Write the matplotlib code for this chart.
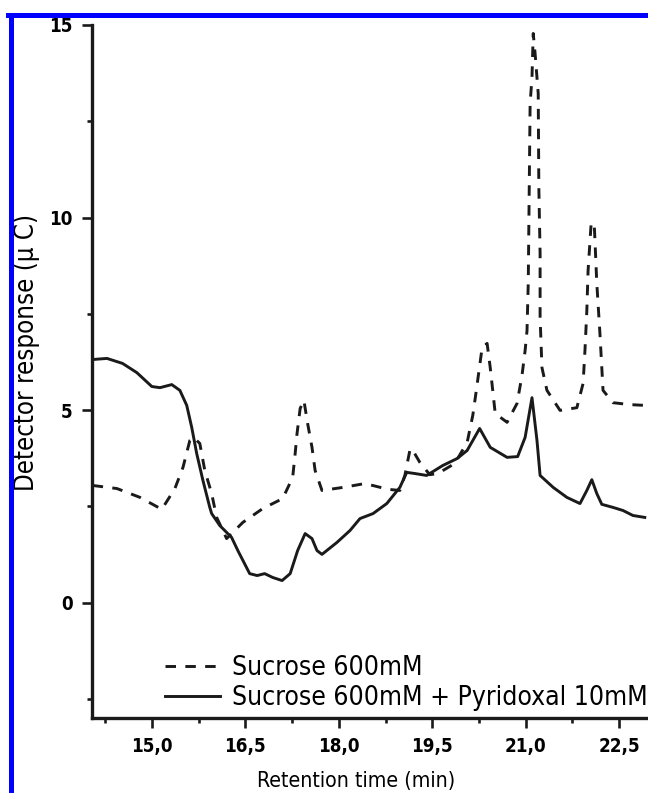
import matplotlib
matplotlib.use("Agg")
import matplotlib.pyplot as plt
from matplotlib import font_manager
from matplotlib.lines import Line2D

# the original uses a narrow Arial-like face; take a condensed sans if one exists
narrow = None
for f in font_manager.fontManager.ttflist:
    nm = (f.name + ' ' + f.fname).lower()
    if ('narrow' in nm or 'condensed' in nm) and 'mono' not in nm and 'serif' not in nm.replace('sans', ''):
        narrow = f
        break

if narrow is not None:
    fam = [narrow.name, 'DejaVu Sans']
    stretch = narrow.stretch
    scale = 1.0
else:
    fam = ['Liberation Sans', 'DejaVu Sans']
    stretch = 'normal'
    scale = 0.85
plt.rcParams['font.family'] = fam
plt.rcParams['font.stretch'] = stretch

# Sucrose 600mM (dashed)
suc_t = [14.05, 14.44, 14.81, 15.16, 15.37, 15.50, 15.61, 15.67, 15.77, 15.85,
         15.96, 16.04, 16.20, 16.46, 16.78, 17.10, 17.26, 17.30, 17.33, 17.38,
         17.44, 17.50, 17.57, 17.62, 17.73, 18.07, 18.42, 18.79, 18.98, 19.06,
         19.14, 19.17, 19.30, 19.46, 19.59, 19.86, 20.06, 20.15, 20.20, 20.30,
         20.38, 20.43, 20.47, 20.51, 20.70, 20.86, 20.94, 20.99, 21.02, 21.04,
         21.07, 21.10, 21.12, 21.15, 21.20, 21.21, 21.23, 21.23, 21.26, 21.34,
         21.55, 21.82, 21.92, 21.95, 21.98, 22.00, 22.05, 22.10, 22.14, 22.19,
         22.24, 22.40, 22.67, 22.91]
suc_y = [3.04, 2.96, 2.73, 2.42, 2.96, 3.51, 4.21, 4.29, 4.13, 3.43,
         2.83, 2.21, 1.66, 2.08, 2.44, 2.70, 3.25, 3.87, 4.39, 5.04,
         5.25, 4.65, 4.03, 3.43, 2.91, 2.99, 3.09, 2.94, 2.91, 3.30,
         3.95, 4.00, 3.64, 3.32, 3.35, 3.61, 4.16, 4.86, 5.43, 6.62,
         6.73, 6.10, 5.51, 4.91, 4.68, 5.17, 5.90, 6.55, 7.06, 8.29,
         12.96, 13.64, 14.78, 14.26, 13.22, 10.78, 9.06, 7.40, 6.10, 5.51,
         4.99, 5.06, 5.69, 6.55, 7.58, 8.62, 9.87, 9.79, 8.29, 6.99,
         5.51, 5.19, 5.14, 5.12]

# Sucrose 600mM + Pyridoxal 10mM (solid)
pyr_t = [14.04, 14.28, 14.53, 14.76, 15.00, 15.13, 15.32, 15.45, 15.56, 15.64,
         15.72, 15.82, 15.93, 15.96, 16.09, 16.28, 16.38, 16.57, 16.69, 16.81,
         16.94, 17.09, 17.22, 17.34, 17.46, 17.57, 17.65, 17.73, 17.97, 18.18,
         18.34, 18.55, 18.77, 18.98, 19.09, 19.22, 19.41, 19.67, 19.90, 20.06,
         20.26, 20.43, 20.70, 20.87, 20.99, 21.10, 21.18, 21.23, 21.44, 21.66,
         21.87, 21.98, 22.06, 22.14, 22.22, 22.40, 22.56, 22.72, 22.91]
pyr_y = [6.31, 6.34, 6.21, 5.97, 5.61, 5.58, 5.66, 5.51, 5.12, 4.55,
         3.87, 3.17, 2.47, 2.31, 2.00, 1.69, 1.35, 0.75, 0.70, 0.75,
         0.65, 0.57, 0.75, 1.35, 1.79, 1.66, 1.35, 1.25, 1.56, 1.87,
         2.18, 2.31, 2.57, 2.99, 3.38, 3.35, 3.30, 3.56, 3.74, 3.95,
         4.52, 4.03, 3.77, 3.79, 4.29, 5.32, 4.21, 3.30, 2.99, 2.73,
         2.57, 2.91, 3.19, 2.83, 2.55, 2.47, 2.39, 2.26, 2.21]

xticks = [15.0, 16.5, 18.0, 19.5, 21.0, 22.5]
xticklabels = ['15,0', '16,5', '18,0', '19,5', '21,0', '22,5']
yticks = [0, 5, 10, 15]

W, H = 648, 793
fig = plt.figure(figsize=(W / 100, H / 100), dpi=100)
x0, x1 = 14.04, 23.0
left_px, right_px, top_px, bot_px = 92, 650.4, 25, 718
ax_w, ax_h = right_px - left_px, bot_px - top_px
ax = fig.add_axes([left_px / W, 1 - bot_px / H, ax_w / W, ax_h / H])

ax.plot(suc_t, suc_y, color='#1a1a1a', lw=2.1, ls=(0, (3.6, 3.2)),
        label='Sucrose 600mM')
ax.plot(pyr_t, pyr_y, color='#1a1a1a', lw=2.1,
        label='Sucrose 600mM + Pyridoxal 10mM')

ax.set_xlim(x0, x1)
ax.set_ylim(-3, 15)
for s in ['top', 'right']:
    ax.spines[s].set_visible(False)
for s in ['left', 'bottom']:
    ax.spines[s].set_linewidth(2.4)
    ax.spines[s].set_color('#1a1a1a')

ax.set_xticks(xticks)
ax.set_xticklabels(xticklabels)
ax.set_xticks([14.25, 15.75, 17.25, 18.75, 20.25, 21.75], minor=True)
ax.set_yticks(yticks)
ax.set_yticks([-2.5, 2.5, 7.5, 12.5], minor=True)
ax.tick_params(which='major', length=7, width=1.9, color='#1a1a1a',
               labelsize=13.5 * scale, pad=7)
ax.tick_params(which='minor', length=3.5, width=1.9, color='#1a1a1a')
for lab in ax.get_xticklabels() + ax.get_yticklabels():
    lab.set_fontweight('bold')

ax.set_xlabel('Retention time (min)', fontsize=15.3 * scale)
ax.xaxis.set_label_coords((356 - left_px) / ax_w, (bot_px - 771) / ax_h)
ax.set_ylabel('Detector response (\u00b5 C)', fontsize=18.5 * scale)
ax.yaxis.set_label_coords((40 - left_px) / ax_w, (bot_px - 352) / ax_h)

fs = 19.0 * scale
fs_px = fs * 100 / 72
leg = ax.legend(loc='upper left', bbox_to_anchor=(165 / W, 1 - 655 / H),
                bbox_transform=fig.transFigure, frameon=False,
                fontsize=fs, handlelength=55 / fs_px,
                handletextpad=12 / fs_px, labelspacing=0.17,
                borderaxespad=0, borderpad=0)

# blue frame around the cropped figure
fig.add_artist(Line2D([10.5 / W, 10.5 / W], [0, 1 - 15 / H], color='#0000ff',
                      lw=3.6, transform=fig.transFigure))
fig.add_artist(Line2D([8 / W, 1], [1 - 15 / H, 1 - 15 / H], color='#0000ff',
                      lw=3.6, transform=fig.transFigure))

fig.savefig('out.png', dpi=100)
